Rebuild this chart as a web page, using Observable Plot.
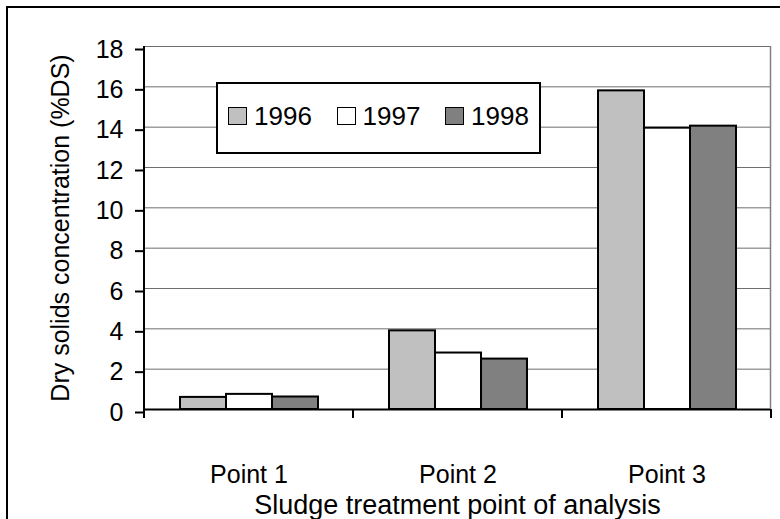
<!DOCTYPE html>
<html>
<head>
<meta charset="utf-8">
<script src="https://cdn.jsdelivr.net/npm/d3@7"></script>
<script src="https://cdn.jsdelivr.net/npm/@observablehq/plot@0.6"></script>
<style>
  html, body { margin: 0; padding: 0; background: #fff; overflow: hidden; }
  #chart { position: relative; width: 780px; height: 519px; font-family: "Liberation Sans", Arial, sans-serif; }
  #chart svg { display: block; }
  #outer { position: absolute; left: 6px; top: 6px; width: 800px; height: 540px; border: 2px solid #000; box-sizing: border-box; pointer-events: none; }
  .legend { position: absolute; left: 216px; top: 82px; width: 325px; height: 72px; box-sizing: border-box;
            border: 2px solid #000; background: #fff; display: flex; align-items: center;
            padding: 0 0 4px 10px; font-size: 26px; color: #000; }
  .legend .item { display: flex; align-items: center; flex: none; width: 108.5px; }
  .legend .sw { width: 19px; height: 18px; box-sizing: border-box; border: 1.5px solid #000; margin-right: 7px; }
</style>
</head>
<body>
<div id="chart"></div>
<script>
// Dry solids concentration (%DS) at three sludge treatment points, by year
const categories = ["Point 1", "Point 2", "Point 3"];
const years = ["1996", "1997", "1998"];
const values1996 = [0.6, 3.9, 15.8];
const values1997 = [0.75, 2.8, 13.95];
const values1998 = [0.62, 2.5, 14.05];
const yearFills = ["#c0c0c0", "#ffffff", "#808080"];
const yTicks = [0, 2, 4, 6, 8, 10, 12, 14, 16, 18];
const yLabel = "Dry solids concentration (%DS)";
const xLabel = "Sludge treatment point of analysis";

const series = [values1996, values1997, values1998];
const rows = [];
categories.forEach((cat, i) => {
  years.forEach((yr, j) => rows.push({cat, year: yr, value: series[j][i]}));
});

const chart = Plot.plot({
  width: 780,
  height: 519,
  marginLeft: 144,
  marginRight: 9,
  marginTop: 46,
  marginBottom: 110,
  style: {fontFamily: "'Liberation Sans', Arial, sans-serif", fontSize: "25px", color: "#000", background: "transparent"},
  fx: {domain: categories, paddingInner: 0, paddingOuter: 0},
  x: {domain: years, paddingInner: 0, paddingOuter: 0.75, axis: null},
  y: {domain: [0, 18]},
  color: {domain: years, range: yearFills},
  marks: [
    Plot.ruleY(yTicks.filter(d => d > 0), {stroke: "#6e6e6e", strokeWidth: 1}),
    Plot.barY(rows, {fx: "cat", x: "year", y: "value", fill: "year", stroke: "#000", strokeWidth: 2}),
    Plot.ruleY([0], {stroke: "#000", strokeWidth: 2}),
    Plot.axisY({ticks: yTicks, tickSize: 9, tickPadding: 12, strokeWidth: 2, fontSize: 25, dy: 3,
                label: yLabel, labelAnchor: "center", labelOffset: 93, labelArrow: false}),
    Plot.axisFx({anchor: "bottom", tickSize: 0, tickPadding: 56, fontSize: 25, label: null})
  ]
});

document.getElementById("chart").appendChild(chart);

// Axis line, right border, category boundary ticks and x title from the chart's scales
const fx = chart.scale("fx");
const y = chart.scale("y");
const left = fx.apply(categories[0]);
const right = fx.apply(categories[categories.length - 1]) + fx.bandwidth;
const y0 = y.apply(0), yTop = y.apply(yTicks[yTicks.length - 1]);
const g = d3.select(chart).append("g");
g.append("line").attr("x1", right - 0.5).attr("x2", right - 0.5).attr("y1", yTop).attr("y2", y0)
  .attr("stroke", "#808080").attr("stroke-width", 1.5);
g.append("line").attr("x1", left).attr("x2", left).attr("y1", yTop).attr("y2", y0 + 1)
  .attr("stroke", "#000").attr("stroke-width", 2);
const edges = categories.map(c => fx.apply(c)).concat([right]);
g.selectAll("line.edge").data(edges).join("line").attr("class", "edge")
  .attr("x1", d => d).attr("x2", d => d).attr("y1", y0).attr("y2", y0 + 9)
  .attr("stroke", "#000").attr("stroke-width", 2);
g.append("text").attr("x", (left + right) / 2).attr("y", y0 + 105)
  .attr("text-anchor", "middle").attr("font-size", 27).attr("fill", "#000").text(xLabel);

// Legend box inside the plot area
const legend = d3.select("#chart").append("div").attr("class", "legend");
years.forEach((yr, j) => {
  const it = legend.append("div").attr("class", "item");
  it.append("div").attr("class", "sw").style("background", yearFills[j]);
  it.append("span").text(yr);
});
d3.select("#chart").append("div").attr("id", "outer");
</script>
</body>
</html>
